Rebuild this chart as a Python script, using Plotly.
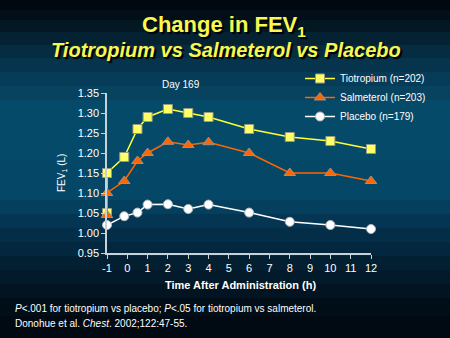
import plotly.graph_objects as go

# Data
tio_x = [-1, -1, -0.15, 0.5, 1, 2, 3, 4, 6, 8, 10, 12]
tio_y = [1.05, 1.15, 1.19, 1.26, 1.29, 1.31, 1.30, 1.29, 1.26, 1.24, 1.23, 1.21]
sal_x = [-1, -1, -0.15, 0.5, 1, 2, 3, 4, 6, 8, 10, 12]
sal_y = [1.045, 1.10, 1.13, 1.18, 1.20, 1.228, 1.22, 1.227, 1.20, 1.15, 1.15, 1.13]
pla_x = [-1, -0.15, 0.5, 1, 2, 3, 4, 6, 8, 10, 12]
pla_y = [1.02, 1.042, 1.051, 1.071, 1.072, 1.06, 1.071, 1.051, 1.028, 1.02, 1.01]
series_names = ["Tiotropium (n=202)", "Salmeterol (n=203)", "Placebo (n=179)"]
x_ticks = list(range(-1, 13))
y_ticks = [0.95, 1.00, 1.05, 1.10, 1.15, 1.20, 1.25, 1.30, 1.35]

W, H = 450, 338
# background bands (pixel top, pixel bottom, colour)
bands = [
    (0, 10, "#02080f"), (10, 20, "#030f18"), (20, 32, "#041824"), (32, 45, "#052233"),
    (45, 58, "#062c42"), (58, 72, "#07344d"), (72, 86, "#073c58"), (86, 100, "#07425f"),
    (100, 160, "#064a6a"), (160, 200, "#054767"), (200, 214, "#053f5e"), (214, 228, "#043653"),
    (228, 242, "#042e48"), (242, 256, "#03273e"), (256, 270, "#032033"), (270, 284, "#021a2a"),
    (284, 298, "#021421"), (298, 316, "#010e18"), (316, 338, "#010a12"),
]
shapes = []
for t, b, c in bands:
    shapes.append(dict(type="rect", xref="paper", yref="paper", layer="below",
                       x0=-107/264, x1=(450-107)/264,
                       y0=(253-b)/160, y1=(253-t)/160,
                       fillcolor=c, line=dict(width=0)))

fig = go.Figure()
fig.add_trace(go.Scatter(x=tio_x, y=tio_y, name=series_names[0], mode="lines+markers",
                         line=dict(color="#ffff33", width=1.5),
                         marker=dict(symbol="square", size=9, color="#ffff66",
                                     line=dict(color="#9a9a80", width=1)),
                         cliponaxis=False))
fig.add_trace(go.Scatter(x=sal_x, y=sal_y, name=series_names[1], mode="lines+markers",
                         line=dict(color="#ff6600", width=1.5),
                         marker=dict(symbol="triangle-up", size=10, color="#ff6600",
                                     line=dict(color="#a09080", width=1)),
                         cliponaxis=False))
fig.add_trace(go.Scatter(x=pla_x, y=pla_y, name=series_names[2], mode="lines+markers",
                         line=dict(color="#ffffff", width=1.5),
                         marker=dict(symbol="circle", size=9, color="#ffffff",
                                     line=dict(color="#b0b8c0", width=1)),
                         cliponaxis=False))

font = "Liberation Sans, Arial, sans-serif"
ann = []

def txt(text, x, y, size, anchor="left", bold=False, color="#ffffff", shadow=None):
    if bold:
        text = "<b>" + text + "</b>"
    f = dict(family=font, size=size, color=color)
    if shadow:
        f["shadow"] = shadow
    ann.append(dict(text=text, xref="paper", yref="paper",
                    x=(x - 107) / 264, y=(253 - y) / 160,
                    xanchor=anchor, yanchor="middle", showarrow=False, font=f))

txt("Change in FEV<sub>1</sub>", 224, 26, 22, anchor="center", bold=True,
    color="#f8f850", shadow="2px 2px 1px #000000")
txt("<i>Tiotropium vs Salmeterol vs Placebo</i>", 226, 50, 20, anchor="center", bold=True,
    color="#f8f850", shadow="2px 2px 1px #000000")
txt("Day 169", 181, 84, 10, anchor="center")
txt("Time After Administration (h)", 240, 285, 11, anchor="center", bold=True)
txt("<i>P</i><.001 for tiotropium vs placebo; <i>P</i><.05 for tiotropium vs salmeterol.", 13, 308, 10)
txt("Donohue et al. <i>Chest</i>. 2002;122:47-55.", 13, 323, 10)
txt("FEV<sub>1</sub> (L)", 62, 173, 10, anchor="center")
ann[-1]["textangle"] = -90

fig.update_layout(
    width=W, height=H,
    margin=dict(l=107, r=79, t=93, b=85),
    paper_bgcolor="#05304a", plot_bgcolor="rgba(0,0,0,0)",
    shapes=shapes, annotations=ann,
    font=dict(family=font, color="#ffffff", size=10),
    showlegend=True,
    legend=dict(x=(300 - 107) / 264, y=(253 - 64) / 160, xanchor="left", yanchor="top",
                bgcolor="rgba(0,0,0,0)", font=dict(size=10, color="#ffffff"),
                itemwidth=30, tracegroupgap=2),
)
fig.update_xaxes(range=[-1, 12], tickvals=x_ticks, ticktext=[str(v) for v in x_ticks],
                 showgrid=False, zeroline=False, showline=True, linecolor="#c8d0d8",
                 linewidth=1.5, ticks="outside", ticklen=4, tickcolor="#c8d0d8",
                 tickfont=dict(size=11, color="#ffffff"))
fig.update_yaxes(range=[0.95, 1.35], tickvals=y_ticks, ticktext=["%.2f" % v for v in y_ticks],
                 showgrid=False, zeroline=False, showline=True, linecolor="#c8d0d8",
                 linewidth=1.5, ticks="outside", ticklen=4, tickcolor="#c8d0d8",
                 tickfont=dict(size=11, color="#ffffff"))

fig.write_html("out.html")
